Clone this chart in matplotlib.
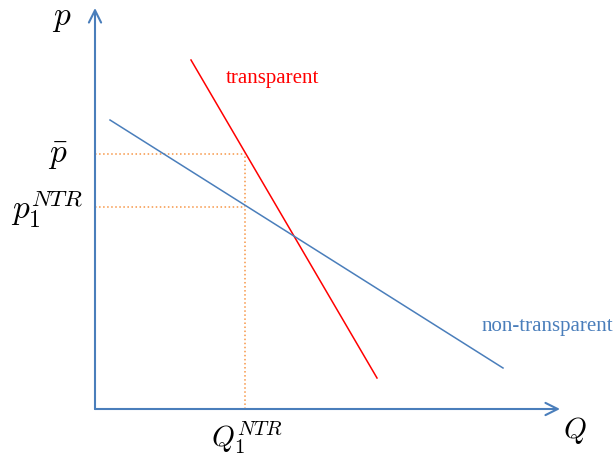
import matplotlib
matplotlib.use('Agg')
import matplotlib.pyplot as plt

# Demand curves (units: arbitrary quantity / price)
red_q = [9.6, 28.2]
red_p = [34.9, 3.1]
blue_q = [1.5, 40.8]
blue_p = [28.9, 4.1]

# Reference levels
p_bar = 25.5
p1_ntr = 20.2
q1_ntr = 15.0

# Axis extents
q_max = 46.5
p_max = 40.1

axis_blue = '#4a7ebb'
line_blue = '#4a7ebb'
orange = '#f79646'

plt.rcParams['mathtext.fontset'] = 'cm'

fig = plt.figure(figsize=(6.15, 4.55), dpi=100)
ax = fig.add_axes([0, 0, 1, 1])
ax.set_xlim(-9.5, 52.0)
ax.set_ylim(-4.6, 40.9)
ax.axis('off')

# axes with arrows
arrow = dict(arrowstyle='->', color=axis_blue, lw=1.5, mutation_scale=22,
             shrinkA=0, shrinkB=0)
ax.annotate('', xy=(q_max, 0), xytext=(0, 0), arrowprops=arrow)
ax.annotate('', xy=(0, p_max), xytext=(0, 0), arrowprops=arrow)

# dotted guides
ax.plot([0, q1_ntr], [p_bar, p_bar], ls=':', color=orange, lw=1.1)
ax.plot([0, q1_ntr], [p1_ntr, p1_ntr], ls=':', color=orange, lw=1.1)
ax.plot([q1_ntr, q1_ntr], [0, p_bar], ls=':', color=orange, lw=1.1)

# demand curves
ax.plot(red_q, red_p, color='#ff0000', lw=1.1)
ax.plot(blue_q, blue_p, color=line_blue, lw=1.1)

# labels
ax.text(13.1, 33.0, 'transparent', color='#ff0000', fontsize=15,
        family='Liberation Serif', ha='left', va='center')
ax.text(38.7, 8.2, 'non-transparent', color=line_blue, fontsize=15,
        family='Liberation Serif', ha='left', va='center')

ax.text(-3.3, 39.1, '$p$', fontsize=24, ha='center', va='center')
ax.text(-3.7, 25.4, r'$\bar{p}$', fontsize=24, ha='center', va='center')
ax.text(-1.2, 20.0, r'$p_1^{NTR}$', fontsize=24, ha='right', va='center')
ax.text(q1_ntr + 0.2, -1.0, r'$Q_1^{NTR}$', fontsize=21, ha='center', va='top')
ax.text(48.0, -2.2, '$Q$', fontsize=21, ha='center', va='center')

fig.savefig('out.png', dpi=100)
